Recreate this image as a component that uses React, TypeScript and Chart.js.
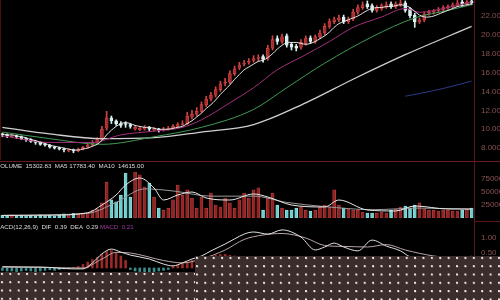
import React, { useEffect, useRef } from "react";
import { Chart, registerables } from "chart.js";
Chart.register(...registerables);

const N = 100;

// ---- price panel ----
const priceTicks = [8, 10, 12, 14, 16, 18, 20, 22];
const opens = [9.5, 9.4, 9.2, 9.3, 9.2, 9.0, 8.9, 8.7, 8.6, 8.4,
  8.3, 8.1, 8.0, 7.9, 7.7, 7.8, 7.7, 7.9, 8.1, 8.3,
  8.6, 8.9, 10.1, 11.2, 10.9, 10.6, 10.6, 10.5, 10.0, 9.95,
  10.0, 10.2, 9.9, 10.0, 9.9, 10.0, 10.1, 10.3, 10.5, 10.6,
  11.3, 11.6, 11.9, 12.6, 13.2, 13.6, 14.2, 14.9, 15.0, 15.9,
  16.5, 16.9, 17.1, 17.3, 17.5, 17.7, 17.5, 18.6, 19.6, 19.3,
  19.9, 19.0, 18.8, 18.7, 19.1, 19.7, 19.3, 19.8, 20.2, 20.9,
  21.4, 21.6, 21.9, 21.4, 21.7, 22.4, 22.9, 23.3, 23.1, 22.6,
  22.8, 23.0, 23.3, 23.0, 23.2, 23.4, 22.7, 22.1, 21.4, 21.6,
  22.3, 22.4, 22.6, 22.7, 22.9, 23.0, 23.1, 23.5, 23.3, 23.6];
const closes = [9.4, 9.3, 9.3, 9.2, 9.0, 8.9, 8.7, 8.6, 8.4, 8.3,
  8.1, 8.0, 7.9, 7.8, 7.8, 7.7, 7.9, 8.1, 8.3, 8.6,
  8.9, 10.0, 11.2, 10.9, 10.6, 10.4, 10.5, 10.3, 10.2, 10.1,
  10.2, 10.0, 10.0, 9.9, 10.0, 10.1, 10.3, 10.5, 10.6, 11.4,
  11.6, 11.9, 12.6, 13.2, 13.6, 14.2, 14.8, 15.0, 15.9, 16.4,
  16.8, 17.0, 17.2, 17.5, 17.6, 17.4, 18.6, 19.5, 19.3, 19.8,
  18.9, 18.7, 18.6, 19.2, 19.6, 19.3, 19.8, 20.2, 20.9, 21.4,
  21.6, 21.8, 21.4, 21.7, 22.4, 22.9, 23.2, 23.0, 22.6, 22.9,
  23.1, 23.2, 23.0, 23.3, 23.4, 22.6, 22.0, 21.4, 21.6, 22.2,
  22.4, 22.5, 22.7, 22.9, 23.0, 23.2, 23.4, 23.3, 23.5, 23.4];
const highs = [9.6, 9.5, 9.4, 9.4, 9.3, 9.1, 9.0, 8.8, 8.7, 8.5,
  8.4, 8.2, 8.1, 8.0, 7.9, 7.9, 8.0, 8.2, 8.4, 8.8,
  9.1, 10.3, 11.9, 11.4, 11.0, 10.8, 10.8, 10.6, 10.4, 10.3,
  10.4, 10.3, 10.2, 10.1, 10.2, 10.3, 10.5, 10.7, 10.9, 11.8,
  12.0, 12.3, 12.9, 13.5, 13.9, 14.5, 15.1, 15.4, 16.2, 16.7,
  17.1, 17.3, 17.5, 17.8, 17.9, 17.9, 18.9, 19.9, 19.9, 20.1,
  20.1, 19.2, 19.0, 19.5, 19.9, 19.9, 20.0, 20.5, 21.2, 21.7,
  21.9, 22.1, 22.1, 21.9, 22.7, 23.2, 23.5, 23.6, 23.3, 23.1,
  23.3, 23.5, 23.5, 23.5, 23.7, 23.6, 22.9, 22.3, 21.8, 22.4,
  22.6, 22.7, 22.9, 23.1, 23.2, 23.4, 23.7, 23.7, 23.8, 23.8];
const lows = [9.2, 9.1, 9.1, 9.0, 8.9, 8.7, 8.6, 8.4, 8.3, 8.2,
  8.0, 7.9, 7.8, 7.6, 7.6, 7.5, 7.6, 7.8, 8.0, 8.2,
  8.5, 8.8, 9.9, 10.6, 10.4, 10.2, 10.2, 10.1, 9.9, 9.85,
  9.9, 9.8, 9.8, 9.7, 9.8, 9.9, 10.0, 10.2, 10.4, 10.5,
  11.1, 11.4, 11.8, 12.4, 13.0, 13.4, 14.0, 14.6, 14.8, 15.7,
  16.3, 16.7, 16.9, 17.1, 17.2, 17.1, 17.3, 18.4, 19.0, 19.1,
  18.7, 18.4, 18.3, 18.5, 18.9, 19.1, 19.1, 19.6, 20.0, 20.7,
  21.2, 21.4, 21.2, 21.2, 21.5, 22.2, 22.7, 22.8, 22.4, 22.4,
  22.6, 22.8, 22.8, 22.8, 23.0, 22.4, 21.8, 20.8, 21.2, 21.4,
  22.1, 22.2, 22.4, 22.5, 22.7, 22.8, 23.0, 23.0, 23.1, 23.2];
const ma5 = [9.5, 9.4, 9.4, 9.3, 9.2, 9.1, 8.9, 8.8, 8.6, 8.5,
  8.3, 8.2, 8.1, 8.0, 7.9, 7.8, 7.8, 7.9, 8.0, 8.2,
  8.4, 8.8, 9.4, 9.9, 10.3, 10.6, 10.7, 10.6, 10.4, 10.3,
  10.2, 10.2, 10.1, 10.0, 10.0, 10.0, 10.1, 10.2, 10.3, 10.6,
  10.9, 11.3, 11.7, 12.2, 12.6, 13.1, 13.7, 14.2, 14.7, 15.3,
  15.8, 16.3, 16.6, 16.9, 17.2, 17.3, 17.6, 18.0, 18.5, 18.9,
  19.2, 19.2, 19.2, 19.1, 19.0, 19.1, 19.3, 19.6, 19.9, 20.3,
  20.8, 21.2, 21.4, 21.6, 21.8, 22.0, 22.3, 22.6, 22.8, 22.9,
  22.9, 23.0, 23.0, 23.1, 23.2, 23.1, 22.9, 22.5, 22.1, 21.9,
  21.9, 22.0, 22.2, 22.4, 22.6, 22.8, 23.0, 23.1, 23.2, 23.3];
const maPinkIdx = [0, 10, 19, 25, 32, 38, 42, 48, 53, 58, 64, 69, 74, 80, 85, 88, 94, 99];
const maPink = [9.3, 8.6, 8.6, 9.4, 9.8, 10.2, 11.0, 12.8, 14.4, 16.3, 17.9, 19.3, 20.8, 21.9, 22.8, 22.4, 22.9, 23.5];
const maGreenIdx = [0, 10, 21, 32, 42, 53, 60, 68, 78, 87, 94, 99];
const maGreen = [9.7, 9.0, 8.4, 9.2, 10.2, 12.1, 14.4, 17.0, 19.8, 21.8, 22.6, 23.2];
const maGrayIdx = [0, 10, 21, 32, 42, 53, 64, 74, 85, 99];
const maGray = [10.2, 9.5, 9.0, 9.1, 9.7, 10.5, 12.8, 15.3, 17.9, 20.9];
const maBlueIdx = [85, 92, 99];
const maBlue = [13.5, 14.2, 15.1];

// ---- volume panel ----
const volumeTicks = [250000, 500000, 750000];
const volumes = [50000, 40000, 60000, 45000, 55000, 40000, 50000, 35000, 60000, 45000, 50000, 40000, 55000,
  80000, 70000, 90000, 85000, 95000, 100000, 150000, 170000,
  290000, 690000, 350000, 310000, 440000, 865000, 400000, 885000, 830000, 600000,
  670000, 400000, 190000, 150000, 190000, 350000, 635000, 440000, 540000, 385000,
  190000, 400000, 190000, 480000, 250000, 210000, 385000, 290000, 190000, 350000,
  480000, 385000, 540000, 580000, 150000, 385000, 480000, 250000, 190000, 150000,
  150000, 190000, 210000, 150000, 135000, 150000, 210000, 250000, 210000, 540000,
  250000, 190000, 170000, 150000, 150000, 115000, 95000, 95000, 95000, 115000,
  95000, 150000, 170000, 210000, 230000, 190000, 250000, 290000, 170000, 150000,
  150000, 135000, 150000, 150000, 135000, 135000, 150000, 170000, 190000];
const volMa5Idx = [0, 10, 18, 21, 24, 26, 29, 32, 34, 37, 40, 43, 48, 53, 56, 61, 68, 71, 77, 83, 87, 94, 99];
const volMa5 = [50000, 55000, 100000, 250000, 442000, 635000, 769000, 577000, 346000, 442000, 500000, 385000, 346000, 462000, 404000, 250000, 212000, 346000, 154000, 135000, 231000, 173000, 173000];
const volMa10Idx = [0, 18, 24, 30, 36, 44, 53, 60, 68, 78, 88, 99];
const volMa10 = [50000, 90000, 300000, 560000, 520000, 420000, 420000, 300000, 220000, 160000, 190000, 170000];

// ---- MACD panel ----
const macdTicks = [0.5, 1.0];
const macdHist = [-0.08, -0.1, -0.1, -0.12, -0.1, -0.08, -0.1, -0.12, -0.1, -0.08, -0.06, -0.08, -0.05,
  -0.03, -0.02, 0.02, 0.05,
  0.12, 0.2, 0.28, 0.35, 0.45, 0.55, 0.58,
  0.5, 0.4, 0.25,
  -0.05, -0.1, -0.12, -0.13, -0.14, -0.12, -0.1, -0.08, -0.05,
  0.05, 0.1, 0.15, 0.2, 0.25,
  0.3, 0.35, 0.38, 0.4, 0.42, 0.45, 0.45, 0.42, 0.4, 0.38, 0.35, 0.3, 0.25, 0.2, 0.15,
  0.12, 0.15, 0.18, 0.2, 0.18, 0.1, 0.0, -0.15, -0.3, -0.4,
  -0.35, -0.2, -0.05, 0.05, 0.1, 0.05, -0.05, -0.1, -0.15, -0.1,
  0.0, 0.1, 0.15, 0.12, 0.05, -0.05, -0.12, -0.2, -0.25, -0.28,
  -0.25, -0.2, -0.15, -0.1, -0.06, -0.02, 0.02, 0.05, 0.08, 0.1,
  0.12, 0.15, 0.18, 0.21];
const difIdx = [0, 8, 15, 17, 19, 21, 23, 25, 27, 31, 34, 36, 38, 40, 42, 44, 47, 49, 51, 53, 56, 59, 63, 66, 68, 70, 72, 75, 78, 81, 84, 86, 91, 95, 99];
const dif = [0.03, 0.03, -0.03, -0.03, 0.17, 0.47, 0.63, 0.53, 0.43, 0.3, 0.13, 0.07, 0.17, 0.3, 0.4, 0.57, 0.8, 0.97, 1.13, 1.2, 1.13, 1.27, 1.03, 0.6, 0.7, 0.83, 0.7, 0.57, 0.93, 0.73, 0.57, 0.37, 0.2, 0.3, 0.39];
const deaIdx = [0, 17, 21, 24, 27, 34, 38, 42, 47, 51, 55, 59, 64, 68, 72, 77, 81, 85, 91, 99];
const dea = [0.05, 0.0, 0.3, 0.52, 0.5, 0.25, 0.17, 0.3, 0.6, 0.95, 1.1, 1.15, 1.0, 0.75, 0.72, 0.7, 0.78, 0.6, 0.4, 0.29];

const idxs = Array.from({ length: N }, (_, i) => i);
const keyPts = (ix: number[], vals: number[]) => ix.map((x, k) => ({ x, y: vals[k] }));

const lineDs = (data: any[], color: string, width = 1, tension = 0) => ({
  type: "line" as const,
  data,
  borderColor: color,
  borderWidth: width,
  pointRadius: 0,
  fill: false,
  tension,
  cubicInterpolationMode: tension ? "default" : "monotone",
});

const xScale = { type: "linear", min: -0.5, max: N - 0.5, display: false, offset: false, grid: { display: false } };

function yScale(min: number, max: number, ticks: number[], fmt: (v: number) => string) {
  return {
    type: "linear",
    position: "right",
    min,
    max,
    grid: { display: false, drawTicks: false },
    border: { display: false },
    afterFit: (s: any) => {
      s.width = 26;
      s.paddingTop = 0;
      s.paddingBottom = 0;
    },
    afterBuildTicks: (s: any) => { s.ticks = ticks.map((v) => ({ value: v })); },
    ticks: {
      color: "#8a5252",
      font: { size: 8, family: "Liberation Sans" },
      padding: 7,
      autoSkip: false,
      maxRotation: 0,
      callback: (v: any) => fmt(Number(v)),
    },
  };
}

function baseOptions(y: any) {
  return {
    responsive: false,
    animation: false,
    events: [],
    layout: { padding: 0 },
    plugins: { legend: { display: false }, tooltip: { enabled: false } },
    scales: { x: xScale, y },
  } as any;
}

function priceConfig(): any {
  const up = idxs.map((i) => closes[i] >= opens[i]);
  return {
    type: "bar",
    data: {
      datasets: [
        lineDs(idxs.map((i) => ({ x: i, y: ma5[i] })), "#e6e6e6", 1, 0.3),
        lineDs(keyPts(maPinkIdx, maPink), "#a2317a", 1),
        lineDs(keyPts(maGreenIdx, maGreen), "#3f9a55", 1),
        lineDs(keyPts(maGrayIdx, maGray), "#cfcfcf", 1.3),
        lineDs(keyPts(maBlueIdx, maBlue), "#2c3a86", 1),
        {
          type: "bar",
          data: idxs.map((i) => ({ x: i, y: [opens[i], closes[i]] })),
          backgroundColor: up.map((u) => (u ? "#a82c2c" : "#d6eeee")),
          borderColor: up.map((u) => (u ? "#d84a4a" : "#e8f8f8")),
          borderWidth: 0.6,
          borderSkipped: false,
          barThickness: 3,
          minBarLength: 1,
          grouped: false,
        },
        {
          type: "bar",
          data: idxs.map((i) => ({ x: i, y: [lows[i], highs[i]] })),
          backgroundColor: up.map((u) => (u ? "#d04444" : "#d6eeee")),
          barThickness: 1,
          grouped: false,
        },
      ],
    },
    options: baseOptions(yScale(6.95, 23.7, priceTicks, (v) => v.toFixed(3))),
  };
}

function volumeConfig(): any {
  const up = idxs.map((i) => closes[i] >= opens[i]);
  return {
    type: "bar",
    data: {
      datasets: [
        lineDs(keyPts(volMa5Idx, volMa5), "#e8e8e8", 1),
        lineDs(keyPts(volMa10Idx, volMa10), "#9a9a9a", 1),
        {
          type: "bar",
          data: idxs.map((i) => ({ x: i, y: volumes[i] })),
          backgroundColor: up.map((u) => (u ? "#8e2424" : "#6fcfcf")),
          borderColor: up.map((u) => (u ? "#c84040" : "#9ae6e6")),
          borderWidth: 0.6,
          borderSkipped: false,
          barThickness: 3,
          grouped: false,
        },
      ],
    },
    options: baseOptions(yScale(0, 1076923, volumeTicks, (v) => String(Math.round(v)))),
  };
}

function macdConfig(): any {
  return {
    type: "bar",
    data: {
      datasets: [
        lineDs(keyPts(difIdx, dif), "#e2e2e2", 1),
        lineDs(keyPts(deaIdx, dea), "#b8a4a4", 1),
        {
          type: "bar",
          data: idxs.map((i) => ({ x: i, y: macdHist[i] })),
          backgroundColor: macdHist.map((v) => (v >= 0 ? "#9a2a2a" : "#3c8e8e")),
          barThickness: 2,
          grouped: false,
        },
      ],
    },
    options: baseOptions(yScale(-1.067, 1.533, macdTicks, (v) => v.toFixed(2))),
  };
}

const dotPattern: React.CSSProperties = {
  position: "absolute",
  backgroundColor: "#3a2d2b",
  backgroundImage: "radial-gradient(circle at 2px 2px, #f2ecec 0.9px, rgba(0,0,0,0) 1.4px)",
  backgroundSize: "8.4px 8.3px",
};

const labelStyle: React.CSSProperties = {
  position: "absolute",
  whiteSpace: "pre",
  fontSize: "6.2px",
  lineHeight: "7px",
  fontFamily: "'Liberation Sans', Arial, sans-serif",
  color: "#dcdcdc",
};

export default function App() {
  const pRef = useRef<HTMLCanvasElement>(null);
  const vRef = useRef<HTMLCanvasElement>(null);
  const mRef = useRef<HTMLCanvasElement>(null);

  useEffect(() => {
    const charts = [
      new Chart(pRef.current as HTMLCanvasElement, priceConfig()),
      new Chart(vRef.current as HTMLCanvasElement, volumeConfig()),
      new Chart(mRef.current as HTMLCanvasElement, macdConfig()),
    ];
    return () => charts.forEach((c) => c.destroy());
  }, []);

  return (
    <div style={{ position: "fixed", left: 0, top: 0, width: 500, height: 300, background: "#000", overflow: "hidden" }}>
      <canvas ref={pRef} width={500} height={158} style={{ position: "absolute", left: 0, top: 0 }} />
      <canvas ref={vRef} width={500} height={56} style={{ position: "absolute", left: 0, top: 162 }} />
      <canvas ref={mRef} width={500} height={78} style={{ position: "absolute", left: 0, top: 222 }} />

      <div style={{ position: "absolute", left: 0, top: 0, width: 1, height: 160, background: "#4a0e0e" }} />
      <div style={{ position: "absolute", left: 0, top: 161, width: 500, height: 1, background: "#6a1a1a" }} />
      <div style={{ position: "absolute", left: 474, top: 0, width: 1, height: 300, background: "#5a1616" }} />
      <div style={{ position: "absolute", left: 474, top: 221, width: 26, height: 1, background: "#5a1616" }} />

      <div style={{ ...labelStyle, left: -4, top: 162 }}>{"VOLUME  15302.83  MA5 17783.40  MA10  14615.00"}</div>
      <div style={{ ...labelStyle, left: -5, top: 223 }}>{"MACD(12,26,9)  DIF  0.39  DEA  0.29"}</div>
      <div style={{ ...labelStyle, left: 100, top: 223, color: "#a23ca2" }}>{"MACD  0.21"}</div>

      <div style={{ ...dotPattern, left: 0, top: 272, width: 195, height: 28 }} />
      <div style={{ ...dotPattern, left: 195, top: 256, width: 305, height: 44 }} />
    </div>
  );
}
